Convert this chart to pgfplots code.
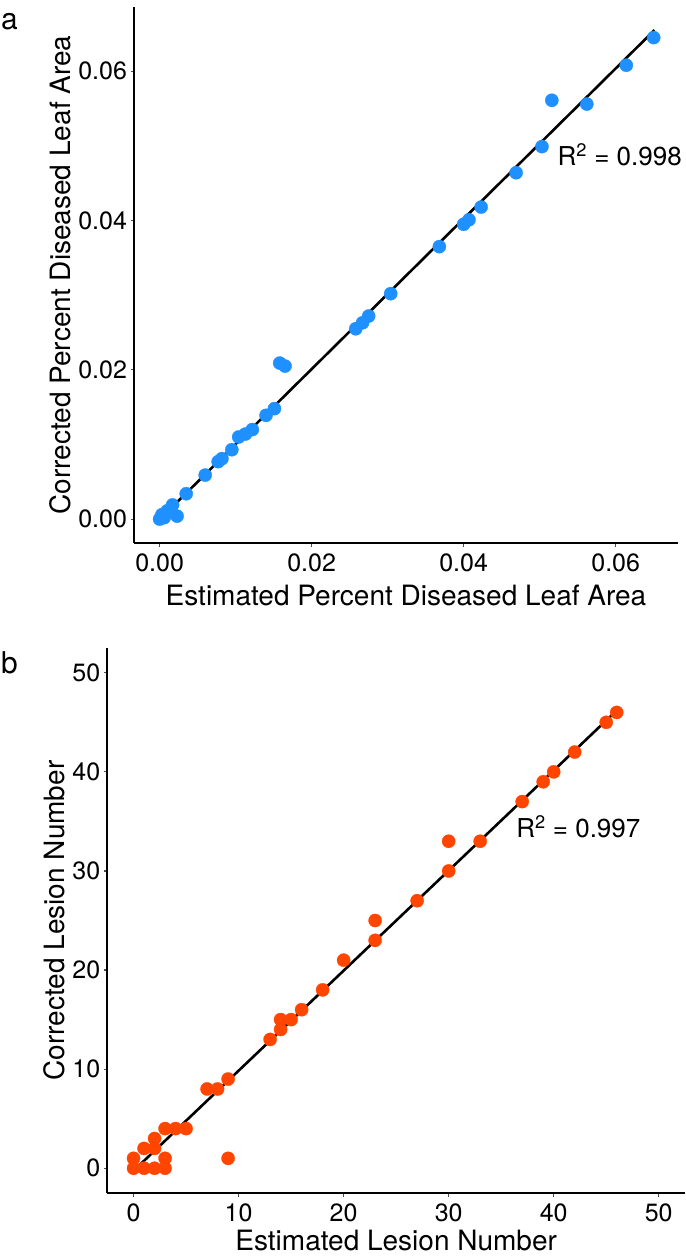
\documentclass[border=0pt]{standalone}
\usepackage{fontspec}
\setmainfont{TeX Gyre Heros}
\usepackage{pgfplots}
\pgfplotsset{compat=1.18}
\definecolor{dblue}{HTML}{1E90FF}
\definecolor{ored}{HTML}{FF4500}

\pgfplotstableread{
x y
0 0
0.0003 0.0006
0.0006 0.0002
0.001 0.0011
0.0017 0.0019
0.0023 0.0004
0.0035 0.0034
0.006 0.0059
0.0077 0.0077
0.0082 0.0081
0.0095 0.0093
0.0104 0.011
0.0113 0.0114
0.0122 0.012
0.014 0.0139
0.0151 0.0148
0.0158 0.0209
0.0165 0.0205
0.0258 0.0255
0.0267 0.0263
0.0275 0.0272
0.0304 0.0302
0.0368 0.0365
0.0400 0.0395
0.0407 0.0401
0.0423 0.0418
0.0469 0.0464
0.0503 0.0499
0.0516 0.0561
0.0562 0.0556
0.0614 0.0608
0.0650 0.0645
}\areadata

\pgfplotstableread{
x y
0 0
0 1
1 0
1 2
2 0
2 2
2 3
3 0
3 1
3 4
4 4
5 4
7 8
8 8
9 9
9 1
13 13
14 14
14 15
15 15
16 16
18 18
20 21
23 23
23 25
27 27
30 30
30 33
33 33
37 37
39 39
40 40
42 42
45 45
46 46
}\lesiondata

\pgfplotsset{
  myaxis/.style={
    scale only axis,
    anchor=south west,
    axis lines*=left,
    axis line style={-, line width=2.2pt, black},
    tick align=outside,
    major tick length=3.5pt,
    tick style={line width=1.2pt, black!70},
    /pgf/number format/assume math mode=true,
    ticklabel style={font=\fontsize{25}{30}\selectfont, text=black},
    xticklabel style={yshift=-4pt},
    clip=false,
    scaled ticks=false,
  }
}

\begin{document}
\begin{tikzpicture}
\useasboundingbox (0pt,0pt) rectangle (685pt,-1257pt);

\begin{axis}[myaxis,
  at={(134pt,-543pt)},
  width=544pt, height=536pt,
  xmin=-0.00337, xmax=0.0682,
  ymin=-0.0032, ymax=0.0686,
  xtick={0,0.02,0.04,0.06}, xticklabels={0.00,0.02,0.04,0.06},
  ytick={0,0.02,0.04,0.06}, yticklabels={0.00,0.02,0.04,0.06},
  xlabel={Estimated Percent Diseased Leaf Area},
  ylabel={Corrected Percent Diseased Leaf Area},
  every axis x label/.style={at={(rel axis cs:0.5,-0.098)}, anchor=center, font=\fontsize{28}{33}\selectfont},
  every axis y label/.style={at={(rel axis cs:-0.136,0.5)}, anchor=center, rotate=90, font=\fontsize{28}{33}\selectfont},
]
\addplot[only marks, mark=*, mark size=6.6pt, color=dblue, mark options={fill=dblue, draw=dblue, line width=0.3pt}] table[x=x,y=y] {\areadata};
\addplot[black, line width=2.6pt] coordinates {(0.00004,0) (0.0651,0.0655)};
\node[anchor=west, font=\fontsize{26}{30}\selectfont] at (axis cs:0.0519,0.0488) {R\textsuperscript{2} = 0.998};
\end{axis}

\begin{axis}[myaxis,
  at={(107.3pt,-1193pt)},
  width=577.7pt, height=545pt,
  xmin=-2.5, xmax=52.5,
  ymin=-2.5, ymax=52.5,
  xtick={0,10,20,30,40,50},
  ytick={0,10,20,30,40,50},
  xlabel={Estimated Lesion Number},
  ylabel={Corrected Lesion Number},
  every axis x label/.style={at={(rel axis cs:0.5,-0.087)}, anchor=center, font=\fontsize{28}{33}\selectfont},
  every axis y label/.style={at={(rel axis cs:-0.092,0.5)}, anchor=center, rotate=90, font=\fontsize{28}{33}\selectfont},
]
\addplot[only marks, mark=*, mark size=6.6pt, color=ored, mark options={fill=ored, draw=ored, line width=0.3pt}] table[x=x,y=y] {\lesiondata};
\addplot[black, line width=2.6pt] coordinates {(0.6,0.35) (46,46.2)};
\node[anchor=west, font=\fontsize{26}{30}\selectfont] at (axis cs:36.1,34.5) {R\textsuperscript{2} = 0.997};
\end{axis}

\node[anchor=west, font=\fontsize{30}{34}\selectfont, inner sep=0pt] at (1pt,-22pt) {a};
\node[anchor=west, font=\fontsize{30}{34}\selectfont, inner sep=0pt] at (1pt,-663pt) {b};
\end{tikzpicture}
\end{document}
